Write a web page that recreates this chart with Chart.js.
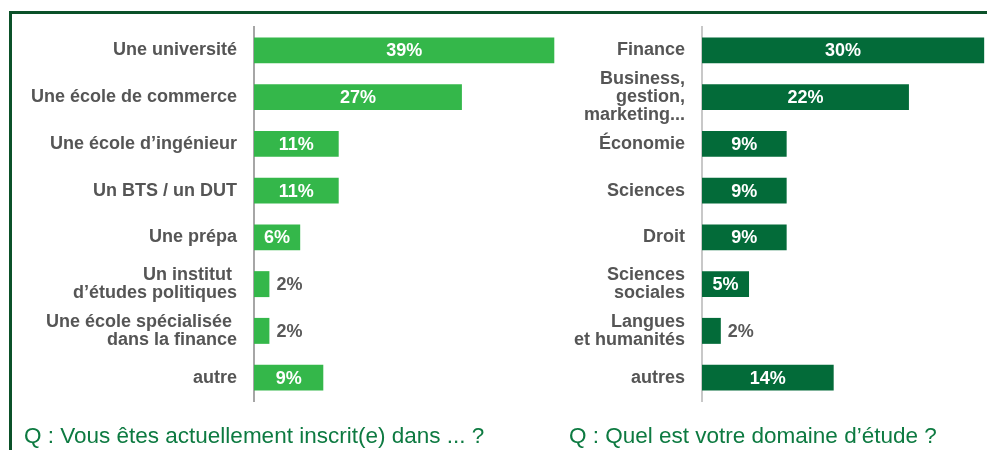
<!DOCTYPE html>
<html>
<head>
<meta charset="utf-8">
<script src="https://cdn.jsdelivr.net/npm/chart.js@4.4.0/dist/chart.umd.min.js"></script>
<style>
  body { margin: 0; background: #fff; font-family: "Liberation Sans", Arial, sans-serif; }
  #page { position: relative; width: 987px; height: 450px; overflow: hidden; }
  #frame { position: absolute; left: 9px; top: 11px; width: 990px; height: 450px;
           border-top: 3px solid #0b5129; border-left: 3px solid #0b5129; }
  canvas { position: absolute; top: 0; }
  .question { position: absolute; top: 425px; font-size: 22.5px; line-height: 1; color: #0d7a41; white-space: nowrap; }
</style>
</head>
<body>
<div id="page">
  <div id="frame"></div>
  <canvas id="leftChart" width="565" height="427" style="left:0;"></canvas>
  <canvas id="rightChart" width="422" height="427" style="left:565px;"></canvas>
  <div class="question" style="left:24px;">Q : Vous êtes actuellement inscrit(e) dans ... ?</div>
  <div class="question" style="left:569px;">Q : Quel est votre domaine d’étude ?</div>
</div>

<script>
// Left chart: where are you enrolled
const schoolLabels = [
    'Une université',
    'Une école de commerce',
    'Une école d’ingénieur',
    'Un BTS / un DUT',
    'Une prépa',
    ['Un institut ', 'd’études politiques'],
    ['Une école spécialisée ', 'dans la finance'],
    'autre'
];
const schoolValues = [39, 27, 11, 11, 6, 2, 2, 9];

// Right chart: field of study
const fieldLabels = [
    'Finance',
    ['Business,', 'gestion,', 'marketing...'],
    'Économie',
    'Sciences',
    'Droit',
    ['Sciences', 'sociales'],
    ['Langues', 'et humanités'],
    'autres'
];
const fieldValues = [30, 22, 9, 9, 9, 5, 2, 14];

const labelFont = { family: '"Liberation Sans", Arial, sans-serif', size: 18, weight: 'bold', lineHeight: 1 };

// draws the % value inside the bar (white) or just after it (grey) for small ones
const valueLabels = {
    id: 'valueLabels',
    afterDatasetsDraw(chart) {
        const ctx = chart.ctx;
        const meta = chart.getDatasetMeta(0);
        const values = chart.data.datasets[0].data;
        ctx.save();
        ctx.font = 'bold 18px "Liberation Sans", Arial, sans-serif';
        ctx.textBaseline = 'middle';
        meta.data.forEach(function(bar, i) {
            const text = values[i] + '%';
            if (values[i] >= 5) {
                ctx.fillStyle = '#ffffff';
                ctx.textAlign = 'center';
                ctx.fillText(text, (bar.base + bar.x) / 2, bar.y + 1);
            } else {
                ctx.fillStyle = '#595959';
                ctx.textAlign = 'left';
                ctx.fillText(text, bar.x + 7, bar.y + 1);
            }
        });
        ctx.restore();
    }
};

function makeChart(id, labels, values, colour, max, axisWidth, axisColour, padRight) {
    return new Chart(document.getElementById(id).getContext('2d'), {
        type: 'bar',
        data: {
            labels: labels,
            datasets: [{
                data: values,
                backgroundColor: colour,
                categoryPercentage: 1,
                barPercentage: 0.555
            }]
        },
        options: {
            indexAxis: 'y',
            responsive: false,
            animation: false,
            layout: { padding: { top: 27, bottom: 18, left: 0, right: padRight } },
            plugins: {
                legend: { display: false },
                tooltip: { enabled: false }
            },
            scales: {
                x: { display: false, min: 0, max: max },
                y: {
                    grid: { display: false, drawTicks: false },
                    border: { display: true, color: axisColour, width: 2 },
                    ticks: { color: '#555555', font: labelFont, padding: 17, autoSkip: false },
                    afterFit: function(scale) { scale.width = axisWidth; }
                }
            }
        },
        plugins: [valueLabels]
    });
}

makeChart('leftChart', schoolLabels, schoolValues, '#34b74a', 40, 254, '#a6a6a6', 3);
makeChart('rightChart', fieldLabels, fieldValues, '#036b39', 30.3, 137, '#c8c8c8', 0);
</script>
</body>
</html>
